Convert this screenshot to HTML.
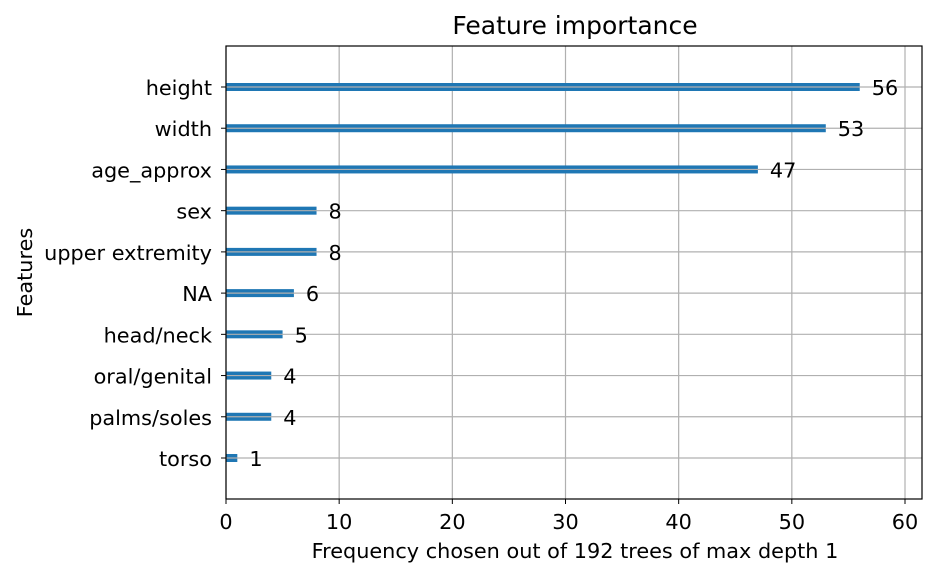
<!DOCTYPE html>
<html><head><style>
body{margin:0;background:#fff}
svg text{font-family:"DejaVu Sans","Liberation Sans",sans-serif;fill:#000}
</style></head><body>
<svg id="c" width="938" height="577"></svg>
<script>
const categories=["height","width","age_approx","sex","upper extremity","NA","head/neck","oral/genital","palms/soles","torso"];
const values=[56,53,47,8,8,6,5,4,4,1];
const xTicks=[0,10,20,30,40,50,60];
const L=226,R=922,T=46,B=499;
const FS='20.8px';
const x=v=>L+v*(905-L)/60;
const y=i=>87+i*(458-87)/9;
const s=document.getElementById('c');const NS='http://www.w3.org/2000/svg';
function mk(t,a,txt){const e=document.createElementNS(NS,t);for(const k in a)e.setAttribute(k,a[k]);if(t==='text'&&!a.style)e.setAttribute('style','font-size:'+FS);if(txt!=null)e.textContent=txt;s.appendChild(e);return e;}
let e;
xTicks.forEach(t=>{
 e=mk('line',{x1:x(t),x2:x(t),y1:T,y2:B,stroke:'#b0b0b0','stroke-width':1.2});
 
 e=mk('line',{x1:x(t),x2:x(t),y1:B,y2:B+5,stroke:'#000'});
 
 e=mk('text',{x:x(t),y:B+30,'text-anchor':'middle'},t);
 
});
categories.forEach((c,i)=>{
 e=mk('rect',{x:L,y:y(i)-4,width:x(values[i])-L,height:8,fill:'#1f77b4'});
 
 e=mk('line',{x1:L,x2:R,y1:y(i),y2:y(i),stroke:'#b0b0b0','stroke-width':1.2});
 
 e=mk('line',{x1:L-5,x2:L,y1:y(i),y2:y(i),stroke:'#000'});
 
 e=mk('text',{x:L-14,y:y(i)+8,'text-anchor':'end'},c);
 
 e=mk('text',{x:x(values[i])+12,y:y(i)+8},values[i]);
 
});
e=mk('rect',{x:L,y:T,width:R-L,height:B-T,fill:'none',stroke:'#000','stroke-width':1.2});

e=mk('text',{x:(L+R)/2+1,y:34,'text-anchor':'middle',style:'font-size:25px'},'Feature importance');

e=mk('text',{x:(L+R)/2+1,y:558,'text-anchor':'middle'},'Frequency chosen out of 192 trees of max depth 1');

e=mk('text',{x:32,y:(T+B)/2,'text-anchor':'middle',transform:'rotate(-90 32 '+((T+B)/2)+')'},'Features');

</script>
</body></html>
